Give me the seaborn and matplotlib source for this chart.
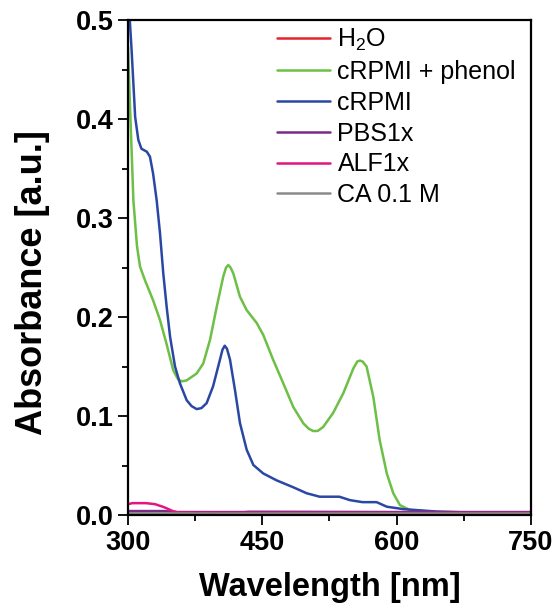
import pandas as pd
import matplotlib.pyplot as plt
import seaborn as sns
from matplotlib.ticker import MultipleLocator

# spectra (wavelength in nm, absorbance in a.u.)
wl_h2o = [300, 320, 350, 400, 500, 600, 750]
abs_h2o = [0.001, 0.001, 0.0008, 0.0006, 0.0005, 0.0005, 0.0005]

wl_phenol = [300, 302, 304, 306, 310, 313.4, 319, 328, 335.7, 343, 350.6, 356,
             360, 365.5, 376.7, 384, 391.6, 399, 406.4, 409.5, 412, 414.5, 417.6,
             425, 432.5, 443.7, 451, 462, 473.4, 484.6, 495.8, 502, 507, 512, 518,
             529, 540.4, 551.6, 556, 559, 562, 566.4, 574, 581, 589, 596.2, 603.7,
             615, 645, 700, 750]
abs_phenol = [0.473, 0.419, 0.369, 0.318, 0.272, 0.251, 0.237, 0.217, 0.197, 0.173,
              0.146, 0.137, 0.135, 0.136, 0.143, 0.153, 0.177, 0.210, 0.241, 0.250,
              0.2525, 0.250, 0.244, 0.2205, 0.207, 0.194, 0.182, 0.157, 0.133,
              0.109, 0.0926, 0.087, 0.0848, 0.085, 0.089, 0.103, 0.123, 0.148,
              0.155, 0.156, 0.155, 0.150, 0.119, 0.0758, 0.042, 0.022, 0.010,
              0.005, 0.003, 0.0025, 0.002]

wl_rpmi = [300, 302, 304, 306, 308, 311.5, 315, 321, 324.5, 328, 332, 335.7, 339.4,
           343.2, 347, 352.5, 358, 365.5, 371, 376.7, 382, 387.8, 395, 402.7,
           405.5, 408, 410.5, 413.9, 419.5, 425, 432.5, 440, 451, 466, 484.6,
           499.5, 514, 529, 536, 548, 562, 570, 577.6, 589, 607, 645, 682, 750]
abs_rpmi = [0.52, 0.500, 0.470, 0.436, 0.402, 0.379, 0.370, 0.367, 0.362, 0.345,
            0.318, 0.285, 0.244, 0.210, 0.180, 0.150, 0.133, 0.116, 0.110, 0.107,
            0.108, 0.113, 0.130, 0.157, 0.167, 0.171, 0.168, 0.157, 0.126, 0.093,
            0.066, 0.0505, 0.042, 0.035, 0.028, 0.022, 0.0185, 0.0185, 0.0185,
            0.015, 0.013, 0.013, 0.013, 0.0084, 0.006, 0.0035, 0.0025, 0.002]

wl_pbs = [300, 340, 355, 430, 435, 600, 750]
abs_pbs = [0.004, 0.004, 0.003, 0.003, 0.0033, 0.003, 0.003]

wl_alf = [300, 305, 320, 330, 340, 350, 356, 400, 750]
abs_alf = [0.011, 0.012, 0.012, 0.011, 0.008, 0.004, 0.0025, 0.0022, 0.002]

wl_ca = [300, 400, 500, 600, 750]
abs_ca = [0.0018, 0.0015, 0.0015, 0.0015, 0.0015]

labels = ["H$_2$O", "cRPMI + phenol", "cRPMI", "PBS1x", "ALF1x", "CA 0.1 M"]
colors = ["#e8232d", "#6dbf45", "#2a48a3", "#7a2b88", "#e4157f", "#8a8a8a"]

series = [(wl_h2o, abs_h2o), (wl_phenol, abs_phenol), (wl_rpmi, abs_rpmi),
          (wl_pbs, abs_pbs), (wl_alf, abs_alf), (wl_ca, abs_ca)]
df = pd.concat([pd.DataFrame({"wl": w, "A": a, "sample": lab})
                for (w, a), lab in zip(series, labels)], ignore_index=True)

sns.set_style("ticks", {"axes.edgecolor": "black", "text.color": "black",
                        "axes.labelcolor": "black", "xtick.color": "black",
                        "ytick.color": "black"})
plt.rcParams["font.family"] = ["Liberation Sans", "DejaVu Sans"]
plt.rcParams["mathtext.fontset"] = "custom"
plt.rcParams["mathtext.rm"] = "Liberation Sans"

fig = plt.figure(figsize=(5.57, 6.14), dpi=100)
ax = fig.add_axes([0.2298, 0.1612, 0.7235, 0.8062])

sns.lineplot(data=df, x="wl", y="A", hue="sample", hue_order=labels,
             palette=dict(zip(labels, colors)), linewidth=1.8, ax=ax,
             estimator=None)

ax.set_xlim(300, 750)
ax.set_ylim(0, 0.5)
ax.xaxis.set_major_locator(MultipleLocator(150))
ax.xaxis.set_minor_locator(MultipleLocator(75))
ax.yaxis.set_major_locator(MultipleLocator(0.1))
ax.yaxis.set_minor_locator(MultipleLocator(0.05))
ax.set_yticks([0, 0.1, 0.2, 0.3, 0.4, 0.5], ["0.0", "0.1", "0.2", "0.3", "0.4", "0.5"])

ax.tick_params(which="major", direction="out", length=7.5, width=1.3,
               labelsize=19.5, pad=3)
ax.tick_params(which="minor", direction="out", length=4.5, width=1.3)
for lbl in ax.get_xticklabels() + ax.get_yticklabels():
    lbl.set_fontweight("bold")
for sp in ax.spines.values():
    sp.set_visible(True)
    sp.set_linewidth(1.6)

ax.set_xlabel("Wavelength [nm]", fontsize=23.5, fontweight="bold", labelpad=12)
ax.set_ylabel("Absorbance [a.u.]", fontsize=26, fontweight="bold")
ax.yaxis.set_label_coords(-0.193, 0.47)

handles, _ = ax.get_legend_handles_labels()
ax.legend(handles, labels, loc="upper right", bbox_to_anchor=(1.0, 1.016),
          frameon=False, fontsize=18, handlelength=2.1, handletextpad=0.3,
          labelspacing=0.27, borderaxespad=0.2)

fig.savefig("out.png", dpi=100)
